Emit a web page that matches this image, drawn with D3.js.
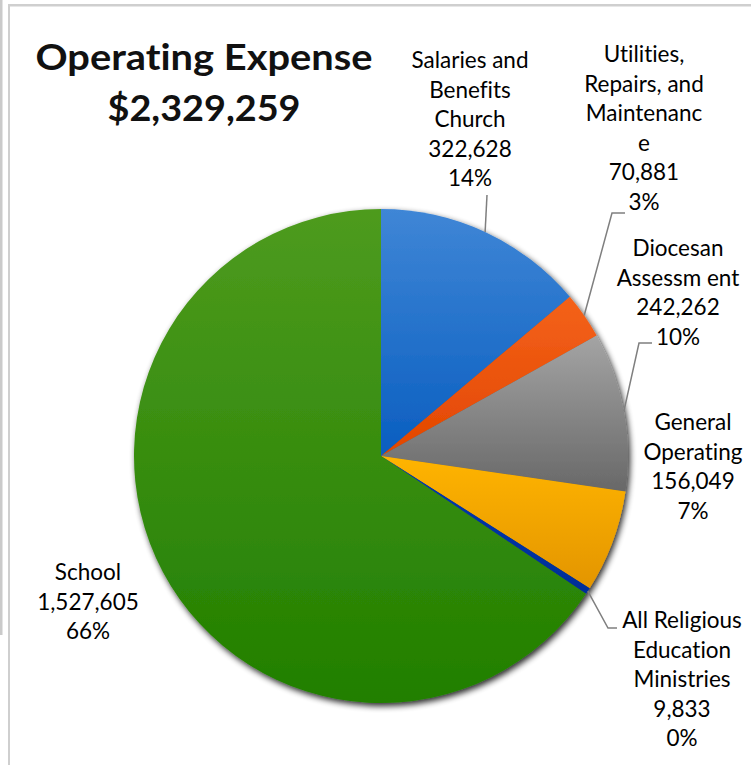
<!DOCTYPE html>
<html>
<head>
<meta charset="utf-8">
<script src="https://cdn.jsdelivr.net/npm/d3@7"></script>
<style>
  html, body { margin: 0; padding: 0; background: #fff; }
  svg { display: block; }
  text { font-variant-ligatures: none; }
</style>
</head>
<body>
<div id="chart"></div>
<script>
// chart data
var categories = ["Salaries and Benefits Church", "Utilities, Repairs, and Maintenance",
    "Diocesan Assessment", "General Operating", "All Religious Education Ministries", "School"];
// how Excel wrapped each name
var labelLines = [
    ["Salaries and", "Benefits", "Church"],
    ["Utilities,", "Repairs, and", "Maintenanc", "e"],
    ["Diocesan", "Assessm ent"],
    ["General", "Operating"],
    ["All Religious", "Education", "Ministries"],
    ["School"]
];
var values = [322628, 70881, 242262, 156049, 9833, 1527605];
var titleText = "Operating Expense";
var titleTotal = 2329259;

// slice colours, top and bottom of the gradient
var colorTop = ["#3f86d6", "#f4621a", "#a4a4a4", "#ffb400", "#0038b0", "#4e9b1e"];
var colorBottom = ["#0a5ec0", "#e24600", "#686868", "#e39500", "#002e98", "#217f00"];

var width = 751, height = 765;
var cx = 381, cy = 456, radius = 247;
var lineHeight = 29.6;
var fontFamily = "Lato, 'Open Sans', sans-serif";

// where Excel put the labels (centre x, first baseline)
var labelPos = [[470, 68], [644, 62], [678, 256], [693, 430], [682, 628], [88, 580]];
// leader line elbows, null = no leader
var leaderElbow = [[[487, 195]], [[612, 213], [625, 213]], [[639, 343], [652, 343]], null,
    [[608, 628], [617, 628]], null];

var svg = d3.select("#chart").append("svg")
    .attr("width", width)
    .attr("height", height);

var defs = svg.append("defs");

var shadow = defs.append("filter")
    .attr("id", "shadow")
    .attr("x", "-20%").attr("y", "-20%")
    .attr("width", "140%").attr("height", "140%");
shadow.append("feGaussianBlur").attr("in", "SourceAlpha").attr("stdDeviation", 3).attr("result", "blur");
shadow.append("feOffset").attr("in", "blur").attr("dx", 2).attr("dy", 3).attr("result", "off");
shadow.append("feComponentTransfer").attr("in", "off").attr("result", "soft")
    .append("feFuncA").attr("type", "linear").attr("slope", 0.85);
var merge = shadow.append("feMerge");
merge.append("feMergeNode").attr("in", "soft");
merge.append("feMergeNode").attr("in", "SourceGraphic");

categories.forEach(function(c, i) {
    var g = defs.append("linearGradient")
        .attr("id", "grad" + i)
        .attr("x1", 0).attr("y1", 0).attr("x2", 0).attr("y2", 1);
    g.append("stop").attr("offset", "0%").attr("stop-color", colorTop[i]);
    g.append("stop").attr("offset", "100%").attr("stop-color", colorBottom[i]);
});

// frame lines from the screenshot
svg.append("rect").attr("x", 0).attr("y", 0).attr("width", 2.5).attr("height", 635).attr("fill", "#cacaca");
svg.append("rect").attr("x", 8).attr("y", 4).attr("width", 2).attr("height", height - 4).attr("fill", "#cfcfcf");
svg.append("rect").attr("x", 8).attr("y", 4).attr("width", width - 8).attr("height", 2.5).attr("fill", "#cfcfcf");

// title
svg.append("text")
    .attr("x", 204).attr("y", 70)
    .attr("text-anchor", "middle")
    .attr("font-family", fontFamily)
    .attr("font-weight", "bold")
    .attr("font-size", 37)
    .attr("fill", "#111")
    .attr("textLength", 337).attr("lengthAdjust", "spacingAndGlyphs")
    .text(titleText);
svg.append("text")
    .attr("x", 204).attr("y", 121)
    .attr("text-anchor", "middle")
    .attr("font-family", fontFamily)
    .attr("font-weight", "bold")
    .attr("font-size", 37)
    .attr("fill", "#111")
    .attr("textLength", 193).attr("lengthAdjust", "spacingAndGlyphs")
    .text("$" + d3.format(",")(titleTotal));

var total = d3.sum(values);
var pie = d3.pie().sort(null).value(function(d) { return d; });
var arc = d3.arc().innerRadius(0).outerRadius(radius);
var edgeArc = d3.arc().innerRadius(radius).outerRadius(radius);
var arcs = pie(values);

var pieG = svg.append("g")
    .attr("transform", "translate(" + cx + "," + cy + ")")
    .attr("filter", "url(#shadow)");

pieG.selectAll("path")
    .data(arcs)
    .enter().append("path")
    .attr("d", arc)
    .attr("fill", function(d, i) { return "url(#grad" + i + ")"; });

// leader lines
arcs.forEach(function(d, i) {
    if (!leaderElbow[i]) return;
    var start = edgeArc.centroid(d);
    var pts = [[start[0] + cx, start[1] + cy]].concat(leaderElbow[i]);
    svg.append("path")
        .attr("d", d3.line()(pts))
        .attr("fill", "none")
        .attr("stroke", "#7f7f7f")
        .attr("stroke-width", 1.5);
});

// data labels
var fmtNum = d3.format(",");
var fmtPct = d3.format(".0%");
arcs.forEach(function(d, i) {
    var lines = labelLines[i].concat([fmtNum(values[i]), fmtPct(values[i] / total)]);
    var t = svg.append("text")
        .attr("text-anchor", "middle")
        .attr("font-family", fontFamily)
        .attr("font-size", 22.5)
        .attr("fill", "#000");
    lines.forEach(function(line, j) {
        t.append("tspan")
            .attr("x", labelPos[i][0])
            .attr("y", labelPos[i][1] + j * lineHeight)
            .text(line);
    });
});
</script>
</body>
</html>
